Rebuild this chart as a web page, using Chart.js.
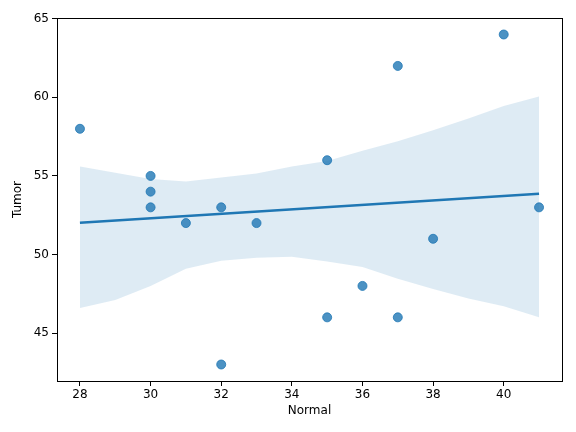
<!DOCTYPE html>
<html>
<head>
<meta charset="utf-8">
<script src="https://cdn.jsdelivr.net/npm/chart.js@4"></script>
<style>
  html, body { margin: 0; padding: 0; background: #fff; }
  #wrap { width: 576px; height: 432px; }
</style>
</head>
<body>
<div id="wrap"><canvas id="chart"></canvas></div>
<script>
// scatter points (Normal vs Tumor)
const normal = [28, 30, 30, 30, 31, 32, 32, 33, 35, 35, 36, 37, 37, 38, 40, 41];
const tumor  = [58, 55, 54, 53, 52, 53, 43, 52, 56, 46, 48, 62, 46, 51, 64, 53];

// regression line
const fitX = [28, 41];
const fitY = [52.02, 53.86];

// confidence band
const bandX     = [28, 29, 30, 31, 32, 33, 34, 35, 36, 37, 38, 39, 40, 41];
const bandUpper = [55.6, 55.2, 54.8, 54.65, 54.9, 55.15, 55.6, 55.95, 56.6, 57.2, 57.9, 58.65, 59.45, 60.05];
const bandLower = [46.6, 47.1, 48.0, 49.1, 49.6, 49.8, 49.85, 49.55, 49.2, 48.45, 47.8, 47.2, 46.7, 46.0];

const xTicks = [28, 30, 32, 34, 36, 38, 40];
const yTicks = [45, 50, 55, 60, 65];

const blue = '#1f77b4';
const font = { family: 'DejaVu Sans', size: 12 };

const pts = (xs, ys) => xs.map((x, i) => ({ x: x, y: ys[i] }));

// matplotlib-style frame on all four sides
const frame = {
    id: 'frame',
    afterDraw(chart) {
        const a = chart.chartArea;
        const ctx = chart.ctx;
        ctx.save();
        ctx.strokeStyle = '#000';
        ctx.lineWidth = 1;
        ctx.strokeRect(Math.round(a.left) + 0.5, Math.round(a.top) + 0.5,
            Math.round(a.right - a.left), Math.round(a.bottom - a.top));
        ctx.restore();
    }
};

new Chart(document.getElementById('chart'), {
    type: 'scatter',
    data: {
        datasets: [
            {
                label: 'points',
                data: pts(normal, tumor),
                backgroundColor: 'rgba(31,119,180,0.8)',
                borderColor: 'rgba(31,119,180,0.8)',
                pointRadius: 4.5,
                order: 0
            },
            {
                label: 'fit',
                data: pts(fitX, fitY),
                showLine: true,
                borderColor: blue,
                borderWidth: 2.5,
                pointRadius: 0,
                order: 1
            },
            {
                label: 'upper',
                data: pts(bandX, bandUpper),
                showLine: true,
                borderWidth: 0,
                borderColor: 'rgba(0,0,0,0)',
                backgroundColor: 'rgba(31,119,180,0.15)',
                pointRadius: 0,
                fill: '+1',
                order: 2
            },
            {
                label: 'lower',
                data: pts(bandX, bandLower),
                showLine: true,
                borderWidth: 0,
                borderColor: 'rgba(0,0,0,0)',
                pointRadius: 0,
                order: 3
            }
        ]
    },
    options: {
        responsive: true,
        maintainAspectRatio: false,
        animation: false,
        layout: { padding: { left: 0, top: 18, right: 14, bottom: 0 } },
        plugins: {
            legend: { display: false },
            tooltip: { enabled: false }
        },
        scales: {
            x: {
                min: 27.35,
                max: 41.65,
                afterBuildTicks: axis => { axis.ticks = xTicks.map(v => ({ value: v })); },
                afterFit: axis => { axis.height = 51; },
                grid: { drawOnChartArea: false, tickLength: 5, color: '#000' },
                border: { color: '#000' },
                ticks: { color: '#000', font: font, padding: 2, maxRotation: 0 },
                title: { display: true, text: 'Normal', color: '#000', font: font, padding: { top: 2, bottom: 14 } }
            },
            y: {
                min: 41.95,
                max: 65.05,
                afterBuildTicks: axis => { axis.ticks = yTicks.map(v => ({ value: v })); },
                afterFit: axis => { axis.width = 57; },
                grid: { drawOnChartArea: false, tickLength: 5, color: '#000' },
                border: { color: '#000' },
                ticks: { color: '#000', font: font, padding: 3 },
                title: { display: true, text: 'Tumor', color: '#000', font: font, padding: { top: 11, bottom: 4 } }
            }
        }
    },
    plugins: [frame]
});
</script>
</body>
</html>
